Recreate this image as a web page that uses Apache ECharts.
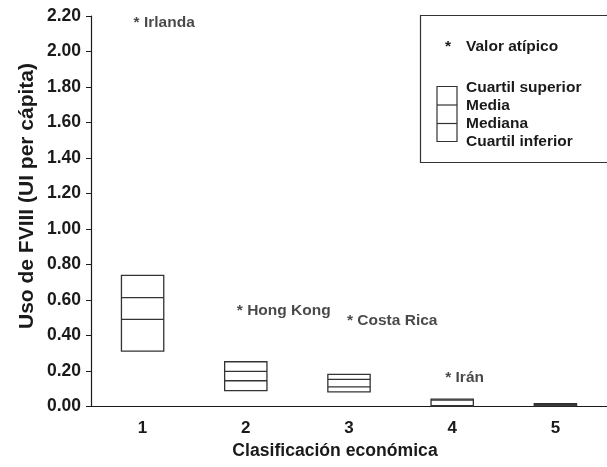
<!DOCTYPE html>
<html>
<head>
<meta charset="utf-8">
<script src="https://cdn.jsdelivr.net/npm/echarts@6/dist/echarts.min.js"></script>
<style>
    html, body { margin: 0; padding: 0; background: #fff; }
    #chart { width: 607px; height: 467px; }
</style>
</head>
<body>
<div id="chart"></div>
<script>
    // clasificación económica 1..5
    var categories = ['1', '2', '3', '4', '5'];

    // cuartiles, media y mediana por grupo
    var cuartilInferior = [0.312, 0.089, 0.082, 0.002, 0.004];
    var mediana = [0.491, 0.145, 0.111, 0.005, 0.008];
    var media = [0.613, 0.198, 0.153, 0.036, 0.012];
    var cuartilSuperior = [0.739, 0.252, 0.181, 0.042, 0.016];

    // valores atípicos
    var outlierNames = ['Irlanda', 'Hong Kong', 'Costa Rica', 'Irán'];
    var outlierGroup = [0, 1, 2, 3];
    var outlierValues = [2.185, 0.563, 0.504, 0.187];

    var yTicks = { min: 0, max: 2.2, interval: 0.2 };

    var font = '"Liberation Sans", Arial, Helvetica, sans-serif';
    var ink = '#1a1a1a';
    var labelDx = [-9, -9, -2, -7];

    var boxData = [], outData = [], i;
    for (i = 0; i < categories.length; i++) {
        boxData.push([i, cuartilInferior[i], mediana[i], media[i], cuartilSuperior[i]]);
    }
    for (i = 0; i < outlierNames.length; i++) {
        outData.push({
            name: outlierNames[i],
            value: [outlierGroup[i], outlierValues[i]],
            label: { position: [labelDx[i], 4] }
        });
    }

    var myChart = echarts.init(document.getElementById('chart'));

    function renderBox(params, api) {
        var x = api.value(0),
            low = api.coord([x, api.value(1)]),
            med = api.coord([x, api.value(2)]),
            mean = api.coord([x, api.value(3)]),
            high = api.coord([x, api.value(4)]),
            w = api.size([1, 0])[0] * 0.41,
            x0 = low[0] - w / 2,
            line = { stroke: '#333', lineWidth: 1.3, fill: null };
        return {
            type: 'group',
            children: [
                { type: 'rect', shape: { x: x0, y: high[1], width: w, height: low[1] - high[1] }, style: line },
                { type: 'line', shape: { x1: x0, y1: mean[1], x2: x0 + w, y2: mean[1] }, style: line },
                { type: 'line', shape: { x1: x0, y1: med[1], x2: x0 + w, y2: med[1] }, style: line }
            ]
        };
    }

    var legendTextStyle = { fontFamily: font, fontSize: 15.5, fontWeight: 'bold', fill: ink, verticalAlign: 'middle' };

    function legendText(x, y, text) {
        return { type: 'text', x: x, y: y, style: Object.assign({ text: text }, legendTextStyle) };
    }

    var option = {
        animation: false,
        backgroundColor: '#fff',
        grid: { left: 91, right: -4, top: 16, bottom: 60.5 },
        xAxis: {
            type: 'category',
            data: categories,
            axisLine: { lineStyle: { color: ink, width: 1.2 } },
            axisTick: { length: 5, lineStyle: { color: ink } },
            axisLabel: { color: ink, fontFamily: font, fontSize: 17, fontWeight: 'bold', margin: 13 },
            splitLine: { show: false }
        },
        yAxis: {
            type: 'value',
            min: yTicks.min,
            max: yTicks.max,
            interval: yTicks.interval,
            axisLine: { show: true, lineStyle: { color: ink, width: 1.2 } },
            axisTick: { show: true, length: 5, lineStyle: { color: ink } },
            axisLabel: {
                color: ink, fontFamily: font, fontSize: 17.5, fontWeight: 'bold', margin: 10,
                formatter: function (v) { return v.toFixed(2); }
            },
            splitLine: { show: false }
        },
        series: [
            {
                type: 'custom',
                renderItem: renderBox,
                data: boxData,
                z: 3
            },
            {
                type: 'scatter',
                symbolSize: 0,
                data: outData,
                label: {
                    show: true,
                    formatter: function (p) { return '* ' + p.name; },
                    align: 'left',
                    verticalAlign: 'middle',
                    color: ink,
                    fontFamily: font,
                    fontSize: 15.5,
                    fontWeight: 'bold'
                },
                z: 4
            }
        ],
        graphic: [
            {
                type: 'text',
                x: 27, y: 196,
                rotation: Math.PI / 2,
                style: {
                    text: 'Uso de FVIII (UI per cápita)',
                    fontFamily: font, fontSize: 21, fontWeight: 'bold', fill: ink,
                    align: 'center', verticalAlign: 'middle'
                }
            },
            {
                type: 'text',
                x: 335, y: 451,
                style: {
                    text: 'Clasificación económica',
                    fontFamily: font, fontSize: 17.6, fontWeight: 'bold', fill: ink,
                    align: 'center', verticalAlign: 'middle'
                }
            },
            {
                type: 'rect',
                shape: { x: 420.5, y: 15.5, width: 200, height: 147 },
                style: { fill: '#fff', stroke: '#333', lineWidth: 1.2 }
            },
            legendText(445, 47, '*'),
            legendText(466, 47, 'Valor atípico'),
            {
                type: 'rect',
                shape: { x: 437, y: 86.5, width: 20, height: 55 },
                style: { fill: null, stroke: '#333', lineWidth: 1.2 }
            },
            {
                type: 'line',
                shape: { x1: 437, y1: 105, x2: 457, y2: 105 },
                style: { stroke: '#333', lineWidth: 1.2 }
            },
            {
                type: 'line',
                shape: { x1: 437, y1: 123.5, x2: 457, y2: 123.5 },
                style: { stroke: '#333', lineWidth: 1.2 }
            },
            legendText(466, 88, 'Cuartil superior'),
            legendText(466, 106, 'Media'),
            legendText(466, 124, 'Mediana'),
            legendText(466, 142, 'Cuartil inferior')
        ]
    };

    myChart.setOption(option);
</script>
</body>
</html>
